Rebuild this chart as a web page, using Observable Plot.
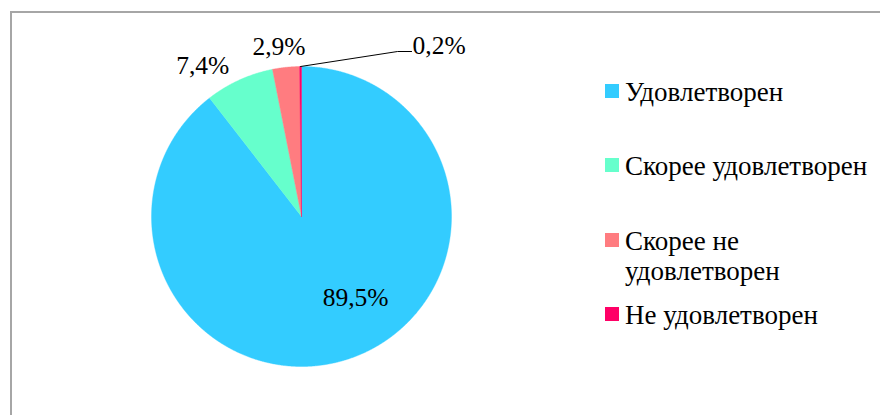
<!DOCTYPE html>
<html><head><meta charset="utf-8">
<script src="https://cdn.jsdelivr.net/npm/d3@7"></script>
<script src="https://cdn.jsdelivr.net/npm/@observablehq/plot@0.6"></script>
<style>
body{margin:0;background:#fff;overflow:hidden}
#wrap{position:relative;width:880px;height:415px;font-family:"Liberation Serif","Times New Roman",serif;overflow:hidden}
#chart{position:absolute;left:0;top:0}
#frame{position:absolute;left:10px;top:11px;width:900px;height:500px;border-left:2px solid #a6a6a6;border-top:2px solid #a6a6a6;pointer-events:none}
#legend{position:absolute;left:605px;top:0}
.item{position:absolute;left:0;display:flex;align-items:flex-start}
.sw{width:14px;height:14px;margin-top:7.1px;flex:none}
.lab{margin-left:6px;font-size:27px;line-height:30px;width:256px;color:#000}
</style></head>
<body>
<div id="wrap"><div id="chart"></div><div id="legend"></div><div id="frame"></div></div>
<script>
const categories = ["Удовлетворен", "Скорее удовлетворен", "Скорее не удовлетворен", "Не удовлетворен"];
const shares = [89.5, 7.4, 2.9, 0.2];
const labels = ["89,5%", "7,4%", "2,9%", "0,2%"];
const colors = ["#33CCFF", "#66FFCC", "#FF7C80", "#FF0066"];

// layout (pixels)
const W = 880, H = 415, CX = 301, CY = 216, R = 150;
const FONT = '"Liberation Serif","Times New Roman",serif';

const total = d3.sum(shares);
let acc = 0;
const slices = categories.map((cat, i) => {
  const a0 = acc / total * 2 * Math.PI; acc += shares[i];
  const a1 = acc / total * 2 * Math.PI;
  return {cat, a0, a1, mid: (a0 + a1) / 2, label: labels[i], i};
});

// polygon points for each slice (unit circle, y up, clockwise from 12 o'clock)
const pts = [];
for (const s of slices) {
  pts.push({cat: s.cat, x: 0, y: 0});
  const n = Math.max(2, Math.ceil((s.a1 - s.a0) / (Math.PI / 720)));
  for (let k = 0; k <= n; k++) {
    const a = s.a0 + (s.a1 - s.a0) * k / n;
    pts.push({cat: s.cat, x: Math.sin(a), y: Math.cos(a)});
  }
  pts.push({cat: s.cat, x: 0, y: 0});
}

// label placement style: radius along mid-angle + pixel nudges
const place = [
  {r: 0.6, anchor: "middle", dx: 25, dy: 4},
  {r: 1, anchor: "end", dx: -10, dy: -6},
  {r: 1, anchor: "middle", dx: -7, dy: -12},
  {r: 1, anchor: "start", dx: 112, dy: -13}
];
const lab = slices.map(s => {
  const p = place[s.i];
  return {label: s.label, anchor: p.anchor,
    x: p.r * Math.sin(s.mid) + p.dx / R,
    y: p.r * Math.cos(s.mid) - p.dy / R};
});

// leader line for the smallest slice
const small = slices[3];
const ex = Math.sin(small.mid), ey = Math.cos(small.mid);
const leader = [
  {x: ex, y: ey},
  {x: ex + 97 / R, y: ey + 15 / R},
  {x: ex + 111 / R, y: ey + 15 / R}
];

const textMarks = ["start", "middle", "end"].map(a =>
  Plot.text(lab.filter(d => d.anchor === a), {
    x: "x", y: "y", text: "label", textAnchor: a, lineAnchor: "bottom",
    fontSize: 25.5, fill: "#000", fontFamily: FONT
  }));

const chart = Plot.plot({
  width: W, height: H, margin: 0,
  style: {background: "transparent", fontFamily: FONT},
  x: {domain: [-CX / R, (W - CX) / R], range: [0, W], axis: null},
  y: {domain: [(CY - H) / R, CY / R], range: [H, 0], axis: null},
  color: {domain: categories, range: colors},
  marks: [
    Plot.line(pts, {x: "x", y: "y", z: "cat", fill: "cat", stroke: "cat", strokeWidth: 0.4}),
    Plot.line(leader, {x: "x", y: "y", stroke: "#000", strokeWidth: 1}),
    ...textMarks
  ]
});
document.getElementById("chart").appendChild(chart);

// legend built from the plot's color scale
const color = chart.scale("color");
const legend = document.getElementById("legend");
color.domain.forEach((c, i) => {
  const item = document.createElement("div");
  item.className = "item";
  item.style.top = (91 - 14.1 + i * 74.4) + "px";
  const sw = document.createElement("div");
  sw.className = "sw"; sw.style.background = color.range[i];
  const t = document.createElement("div");
  t.className = "lab"; t.textContent = c;
  item.append(sw, t);
  legend.appendChild(item);
});
</script>
</body></html>
